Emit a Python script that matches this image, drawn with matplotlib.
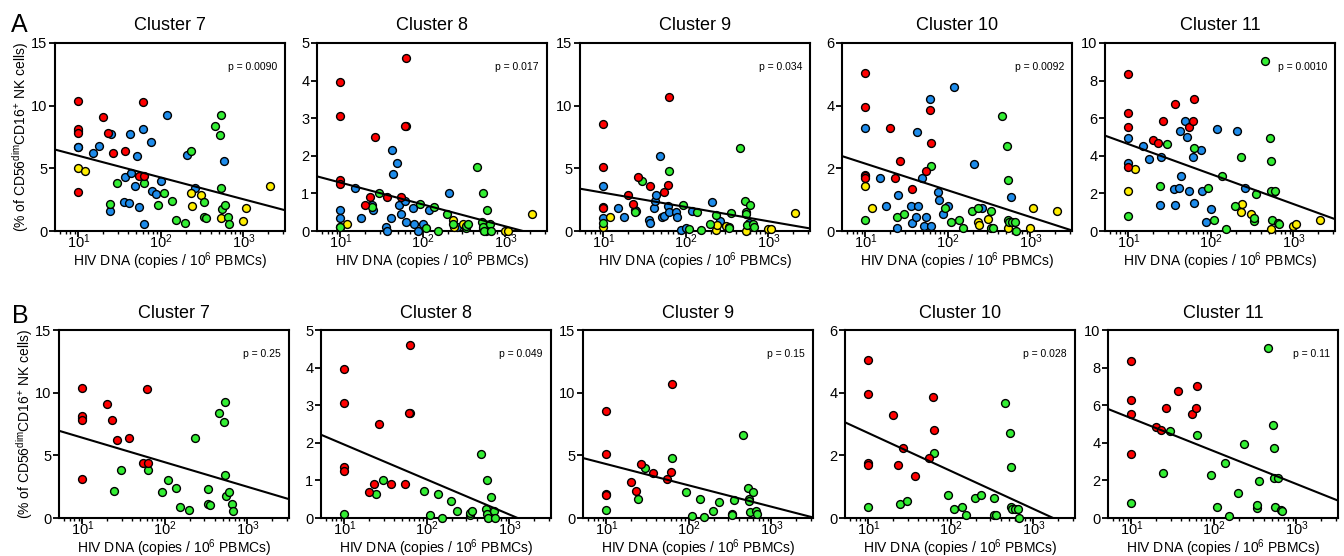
import numpy as np
import matplotlib
matplotlib.use('Agg')
import matplotlib.pyplot as plt

plt.rcParams['font.family'] = ['Liberation Sans', 'DejaVu Sans']
plt.rcParams['mathtext.fontset'] = 'custom'
plt.rcParams['mathtext.rm'] = 'Liberation Sans'
plt.rcParams['mathtext.it'] = 'Liberation Sans:italic'
plt.rcParams['mathtext.bf'] = 'Liberation Sans:bold'

# panels
clusters = ['Cluster 7', 'Cluster 8', 'Cluster 9', 'Cluster 10', 'Cluster 11']
y_max = [15, 5, 15, 6, 10]
y_step = [5, 1, 5, 2, 2]
p_all = ['p = 0.0090', 'p = 0.017', 'p = 0.034', 'p = 0.0092', 'p = 0.0010']
p_rg = ['p = 0.25', 'p = 0.049', 'p = 0.15', 'p = 0.028', 'p = 0.11']

# regression y = b0 + b1 * log10(x)
fit_all_b0 = [7.74, 1.87, 4.19, 3.00, 6.215]
fit_all_b1 = [-1.735, -0.582, -1.137, -0.851, -1.593]
fit_rg_b0 = [8.36, 2.88, 6.00, 3.92, 7.05]
fit_rg_b1 = [-1.956, -0.929, -1.699, -1.21, -1.747]

# HIV DNA (copies / 10^6 PBMCs) per donor group
red_x = [10, 10, 10, 10, 20, 23, 26, 37, 55, 60, 63]
green_x = [10, 24, 29, 62, 93, 110, 138, 153, 196, 233, 330, 337, 355, 455,
           525, 537, 540, 545, 603, 660, 665]
blue_x = [10, 10, 15, 18, 24, 25, 36, 37, 41, 42, 43, 48, 52, 55, 60, 62,
          75, 77, 87, 100, 120, 205, 258, 590]
yellow_x = [10, 12, 234, 240, 310, 540, 980, 1070, 2100]

# % of CD56dim CD16+ NK cells, one row per cluster (7..11)
red_y = [
    [10.4, 8.1, 7.8, 3.1, 9.1, 7.8, 6.2, 6.4, 4.4, 10.3, 4.4],
    [3.95, 3.05, 1.35, 1.25, 0.7, 0.9, 2.5, 0.9, 0.9, 2.8, 4.6],
    [8.55, 5.1, 1.9, 1.85, 2.9, 2.15, 4.3, 3.6, 3.1, 3.7, 10.7],
    [5.05, 3.95, 1.75, 1.7, 3.3, 1.7, 2.25, 1.35, 1.9, 3.85, 2.8],
    [8.35, 6.3, 5.55, 3.4, 4.85, 4.7, 5.85, 6.75, 5.55, 5.85, 7.0],
]
green_y = [
    [8.0, 2.15, 3.85, 3.85, 2.05, 3.05, 2.4, 0.9, 0.65, 6.35, 1.1, 2.3, 1.0,
     8.35, 7.65, 9.25, 3.4, 1.75, 2.05, 1.15, 0.55],
    [0.1, 0.63, 1.0, 2.78, 0.72, 0.08, 0.63, 0.0, 0.45, 0.18, 0.08, 0.12, 0.18,
     1.7, 0.25, 1.0, 0.1, 0.0, 0.55, 0.18, 0.0],
    [0.65, 1.55, 4.0, 4.75, 2.05, 0.15, 1.55, 0.05, 0.55, 1.25, 0.35, 0.25, 1.45,
     6.65, 2.4, 1.55, 1.35, 0.45, 2.05, 0.55, 0.3],
    [0.35, 0.45, 0.55, 2.07, 0.72, 0.28, 0.35, 0.08, 0.63, 0.72, 0.63, 0.08, 0.08,
     3.68, 2.7, 1.62, 0.35, 0.28, 0.3, 0.28, 0.0],
    [0.8, 2.4, 4.65, 4.4, 2.3, 0.6, 2.95, 0.08, 1.35, 3.95, 0.55, 0.7, 1.95,
     9.05, 4.95, 3.75, 2.15, 0.6, 2.15, 0.45, 0.35],
]
blue_y = [
    [6.7, 6.7, 6.2, 6.75, 1.6, 7.7, 2.35, 4.3, 2.25, 7.7, 4.65, 3.6, 6.0, 1.95,
     8.1, 0.55, 7.1, 3.2, 2.95, 4.0, 9.25, 6.1, 3.4, 5.6],
    [0.55, 0.35, 1.15, 0.35, 0.7, 0.55, 0.1, 0.0, 0.35, 2.15, 1.52, 1.8, 0.7, 0.45,
     0.8, 0.25, 0.62, 0.18, 0.0, 0.18, 0.55, 1.0, 0.1, 0.0],
    [3.6, 1.0, 1.85, 1.1, 1.7, 1.6, 0.9, 0.6, 1.8, 2.4, 2.85, 6.0, 1.15, 1.2,
     2.0, 1.5, 1.5, 1.1, 0.1, 0.25, 1.6, 2.3, 0.8, 0.6],
    [3.3, 1.8, 1.7, 0.8, 0.08, 1.15, 0.8, 0.25, 0.45, 3.15, 0.8, 1.7, 0.15, 0.45,
     4.2, 0.15, 1.25, 0.98, 0.55, 0.8, 4.6, 2.15, 0.72, 1.08],
    [4.95, 3.6, 4.5, 3.85, 1.4, 3.95, 2.25, 1.4, 2.3, 5.3, 2.95, 5.85, 5.0, 2.15,
     3.95, 1.5, 4.3, 2.15, 0.5, 1.15, 5.45, 5.3, 2.3, 2.1],
]
yellow_y = [
    [5.0, 4.75, 3.0, 2.0, 2.85, 1.0, 0.8, 1.85, 3.6],
    [0.1, 0.18, 0.28, 0.1, 0.18, 0.05, 0.0, 0.0, 0.45],
    [0.3, 1.15, 0.1, 0.45, 0.4, 0.0, 0.15, 0.15, 1.45],
    [1.45, 0.72, 0.28, 0.18, 0.38, 0.1, 0.08, 0.72, 0.63],
    [2.15, 3.3, 1.0, 1.45, 0.9, 0.1, 0.28, 0.35, 0.6],
]

c_red = '#ff0000'
c_green = '#33ee33'
c_blue = '#1e8ceb'
c_yellow = '#ffee00'

x_lo, x_hi = 5.2, 3200

fig = plt.figure(figsize=(13.44, 5.56), dpi=100)

lefts_top = [55, 317, 580, 842, 1105]
lefts_bot = [59, 321, 583, 845, 1108]
W, H = 1344.0, 556.0
AW, AH = 230.0, 188.0


def style_axis(ax, i, first):
    ax.set_xscale('log')
    ax.set_xlim(x_lo, x_hi)
    ax.set_ylim(0, y_max[i])
    ax.set_yticks(np.arange(0, y_max[i] + 0.01, y_step[i]))
    for s in ax.spines.values():
        s.set_linewidth(1.5)
    ax.tick_params(which='major', direction='out', length=4, width=1.3,
                   labelsize=10.5)
    ax.tick_params(axis='x', which='major', pad=-3)
    ax.tick_params(axis='y', which='major', pad=1.5)
    ax.tick_params(which='minor', direction='out', length=2.5, width=1.0)
    ax.set_title(clusters[i], fontsize=13, pad=9)
    ax.set_xlabel('HIV DNA (copies / 10$^{6}$ PBMCs)', fontsize=10)
    ax.xaxis.set_label_coords(0.5, -19 / AH)
    if first:
        ax.set_ylabel('(% of CD56$^{\\rm dim}$CD16$^{+}$ NK cells)', fontsize=10)
        ax.yaxis.set_label_coords(-34 / AW, 0.5)
        ax.yaxis.label.set_va('center')


def dots(ax, xs, ys, color):
    ax.scatter(xs, ys, s=32, c=color, edgecolors='black', linewidths=1.0,
               zorder=3, clip_on=False)


xs_line = np.array([x_lo, x_hi])

# row A: all donors
for i in range(5):
    ax = fig.add_axes([lefts_top[i] / W, 1 - 231 / H, AW / W, AH / H])
    style_axis(ax, i, i == 0)
    dots(ax, blue_x, blue_y[i], c_blue)
    dots(ax, yellow_x, yellow_y[i], c_yellow)
    dots(ax, green_x, green_y[i], c_green)
    dots(ax, red_x, red_y[i], c_red)
    ax.plot(xs_line, fit_all_b0[i] + fit_all_b1[i] * np.log10(xs_line),
            color='black', lw=1.5, zorder=4)
    ax.text(0.965, 0.87, p_all[i], transform=ax.transAxes, ha='right',
            va='center', fontsize=7.5)

# row B: red and green donors only
for i in range(5):
    ax = fig.add_axes([lefts_bot[i] / W, 1 - 518 / H, AW / W, AH / H])
    style_axis(ax, i, i == 0)
    dots(ax, green_x, green_y[i], c_green)
    dots(ax, red_x, red_y[i], c_red)
    ax.plot(xs_line, fit_rg_b0[i] + fit_rg_b1[i] * np.log10(xs_line),
            color='black', lw=1.5, zorder=4)
    ax.text(0.965, 0.87, p_rg[i], transform=ax.transAxes, ha='right',
            va='center', fontsize=7.5)

fig.text(11 / W, 1 - 13 / H, 'A', fontsize=18, va='top', ha='left')
fig.text(12 / W, 1 - 304 / H, 'B', fontsize=18, va='top', ha='left')

fig.savefig('out.png', dpi=100)
